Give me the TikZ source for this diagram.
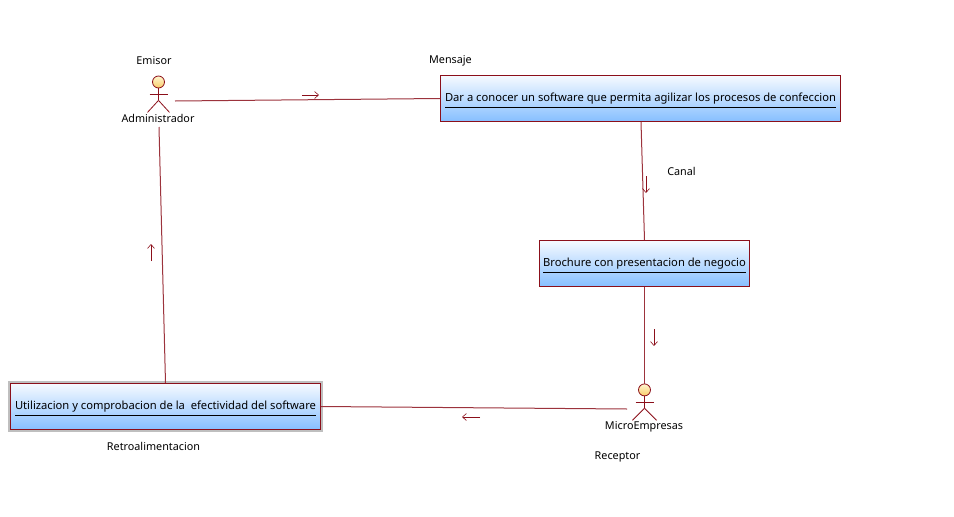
\documentclass[tikz,border=0pt]{standalone}
\usepackage{fontspec}
\setmainfont{Noto Sans}
\usepackage{xcolor}
\usetikzlibrary{arrows.meta,positioning}
\definecolor{umlred}{HTML}{8B0F1A}
\definecolor{boxtop}{HTML}{F6FAFF}
\definecolor{boxbottom}{HTML}{86BFFF}
\definecolor{headtop}{HTML}{FFF6D0}
\definecolor{headbottom}{HTML}{F8CC68}
% underlined text of a box
\newcommand{\boxtext}[1]{\raisebox{0pt}[9pt][2.6pt]{\underline{\rule[-3.6pt]{0pt}{0pt}#1}}}
% stick figure hanging under a head node
\newcommand{\actorfig}[3]{%
  \draw[umlline] (#1.south) -- ++(0,12) coordinate (#1hip);
  \draw[umlline] ([yshift=-6pt]#1.south) ++(-#2,0) -- ++(2*#2,0);
  \draw[umlline] (#1hip) -- ++(-#3,12);
  \draw[umlline] (#1hip) -- ++(#3,12);
}
\begin{document}
\begin{tikzpicture}[
  x=1pt, y=-1pt,
  node distance=10pt,
  every node/.style={font=\fontsize{10.8}{13}\selectfont, inner sep=0pt},
  umlline/.style={draw=umlred, line width=0.8pt},
  flowline/.style={draw=umlred!85, line width=1pt},
  arrow/.style={-{Straight Barb[length=4pt,width=7pt]}, draw=umlred, line width=0.6pt},
  boxnode/.style={draw=umlred, line width=1pt, rectangle, top color=boxtop, bottom color=boxbottom, minimum height=46pt, font=\fontsize{11.2}{13}\selectfont},
  headnode/.style={circle, draw=umlred, line width=0.8pt, minimum size=12pt, top color=headtop, bottom color=headbottom},
  selframe/.style={draw=black!25, line width=1.6pt}
]
  \useasboundingbox (0,0) rectangle (954,517);

  \node[boxnode, minimum width=400pt] (msg) at (640.5,98.5) {\boxtext{Dar a conocer un software que permita agilizar los procesos de confeccion}};
  \node[boxnode, minimum width=210pt, below=118pt of msg, xshift=4pt] (brochure) {\boxtext{Brochure con presentacion de negocio}};
  \node[boxnode, minimum width=310pt] (retro) at (165.5,406.5) {\boxtext{Utilizacion y comprobacion de la \ efectividad del software}};
  \draw[selframe] ([shift={(-0.8,-0.8)}]retro.north west) rectangle ([shift={(0.8,0.8)}]retro.south east);

  % actors
  \node[headnode] (admin) at (158.5,82) {};
  \node[headnode, below=96.5pt of brochure] (micro) {};
  \actorfig{admin}{9}{11}
  \actorfig{micro}{9}{12}

  % labels
  \node (adminlabel) at (158,118) {Administrador};
  \node (microlabel) at (644,426.5) {MicroEmpresas};
  \node (emisor) at (154,61) {Emisor};
  \node (mensaje) at (450.5,61) {Mensaje};
  \node (canal) at (681.5,171) {Canal};
  \node (retrolabel) at (153.5,446) {Retroalimentacion};
  \node (receptor) at (617.5,456.5) {Receptor};

  % connector ends beside the actors
  \coordinate (adminright) at (175,101);
  \coordinate (adminbelow) at (159,127);
  \coordinate (microleft) at (627,409);

  \draw[flowline] (adminright) -- (msg.west);
  \draw[flowline] (msg.south -| 641,0) -- (brochure.north);
  \draw[flowline] (brochure.south) -- (micro.north);
  \draw[flowline] (microleft) -- (retro.east);
  \draw[flowline] (retro.north) -- (adminbelow);

  % small direction arrows
  \coordinate (a1) at (302,95);   \coordinate (a2) at (319,95);
  \coordinate (b1) at (646,176);  \coordinate (b2) at (646,193);
  \coordinate (c1) at (654,329);  \coordinate (c2) at (654,346);
  \coordinate (d1) at (480,417);  \coordinate (d2) at (462,417);
  \coordinate (e1) at (151,261);  \coordinate (e2) at (151,244);
  \draw[arrow] (a1) -- (a2);
  \draw[arrow] (b1) -- (b2);
  \draw[arrow] (c1) -- (c2);
  \draw[arrow] (d1) -- (d2);
  \draw[arrow] (e1) -- (e2);
\end{tikzpicture}
\end{document}
